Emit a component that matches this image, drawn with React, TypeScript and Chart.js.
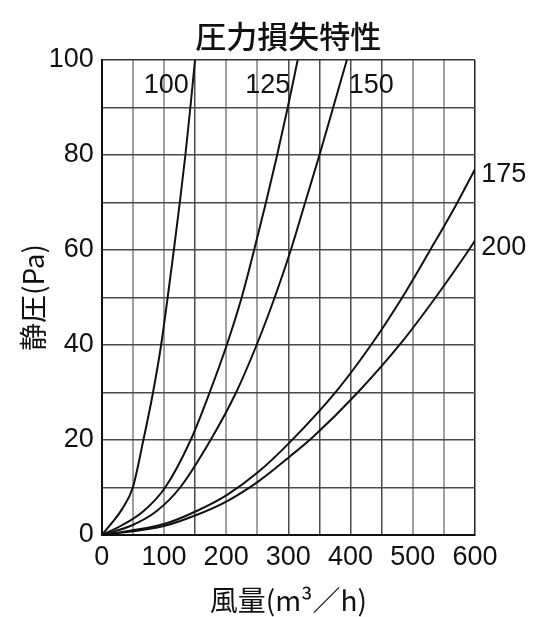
import { useEffect, useRef } from "react";
import { Chart, registerables } from "chart.js";

Chart.register(...registerables);

const titleText = "圧力損失特性";
const xTitle = "風量(m³／h)";
const yTitle = "静圧(Pa)";

// air flow (m3/h) and static pressure (Pa)
const q100 = [0, 16, 33, 50, 67, 82.5, 95.5, 106, 116, 125.5, 134.5, 142.5, 150];
const p100 = [0, 2.5, 5.5, 10, 20, 30, 40, 50, 60, 70, 80, 90, 100];

const q125 = [0, 32, 67, 102, 143, 173.5, 201, 225, 245, 264, 282, 299, 315];
const p125 = [0, 2, 5, 10, 20, 30, 40, 50, 60, 70, 80, 90, 100];

const q150 = [0, 48, 88, 126, 175, 216, 249, 278, 304, 327, 350, 372, 394];
const p150 = [0, 2, 5, 10, 20, 30, 40, 50, 60, 70, 80, 90, 100];

const q175 = [0, 100, 150, 201, 252, 303, 378, 434, 482, 528, 570, 600];
const p175 = [0, 2.3, 4.9, 8.4, 13.3, 19.6, 30.4, 40.2, 49.8, 60, 69.6, 77];

const q200 = [0, 100, 150, 201, 252, 303, 340, 410, 481, 536, 589, 600];
const p200 = [0, 1.9, 4.1, 7.1, 11.3, 16.6, 20.7, 29.8, 40.4, 49.9, 59.8, 62];

const curveNames = ["100", "125", "150", "175", "200"];
const curveQ = [q100, q125, q150, q175, q200];
const curveP = [p100, p125, p150, p175, p200];

// where each curve's name sits, in data units
const labelQ = [140, 303, 397, 610, 610];
const labelP = [94.7, 94.7, 94.7, 75.9, 60.5];
const labelAlign: CanvasTextAlign[] = ["right", "right", "left", "left", "left"];

// faint (worn) vertical grid lines of the printed chart
const faintX = [50, 100, 200, 250, 500, 550];

const tickFont = { family: "'Liberation Sans', Arial, sans-serif", size: 27 };
const cjkFont = "'Noto Sans CJK JP', 'Noto Sans', sans-serif";

const annotate = {
  id: "annotate",
  afterDraw(chart: any) {
    const { ctx, chartArea, scales } = chart;
    ctx.save();
    ctx.fillStyle = "#111";
    ctx.textBaseline = "middle";
    ctx.textAlign = "center";
    ctx.font = `500 31px ${cjkFont}`;
    ctx.fillText(titleText, (chartArea.left + chartArea.right) / 2, 36);
    ctx.font = `27px ${tickFont.family}`;
    curveNames.forEach((name, i) => {
      ctx.textAlign = labelAlign[i];
      ctx.fillText(
        name,
        scales.x.getPixelForValue(labelQ[i]),
        scales.y.getPixelForValue(labelP[i])
      );
    });
    ctx.restore();
  },
};

function xGridColor(ctx: any) {
  const v = ctx.tick?.value;
  if (v === 600) return "#222";
  return faintX.includes(v) ? "#a0a0a0" : "#4a4a4a";
}

function yGridColor(ctx: any) {
  return ctx.tick?.value === 100 ? "#333" : "#4a4a4a";
}

function PressureLossChart() {
  const canvasRef = useRef<HTMLCanvasElement>(null);

  useEffect(() => {
    const canvas = canvasRef.current;
    if (!canvas) return;
    const chart = new Chart(canvas, {
      type: "line",
      data: {
        datasets: curveNames.map((name, i) => ({
          label: name,
          data: curveQ[i].map((q, j) => ({ x: q, y: curveP[i][j] })),
          borderColor: "#111",
          borderWidth: 2,
          pointRadius: 0,
          cubicInterpolationMode: "monotone" as const,
          fill: false,
        })),
      },
      options: {
        responsive: false,
        animation: false,
        layout: { padding: { left: 0, top: 60, right: 63, bottom: 0 } },
        plugins: {
          legend: { display: false },
          tooltip: { enabled: false },
        },
        scales: {
          x: {
            type: "linear",
            min: 0,
            max: 600,
            afterFit(scale: any) {
              scale.height = 82;
              scale.paddingLeft = 0;
              scale.paddingRight = 0;
            },
            ticks: {
              stepSize: 50,
              autoSkip: false,
              maxRotation: 0,
              padding: 6,
              color: "#111",
              font: tickFont,
              callback: (v: any) => (Number(v) % 100 === 0 ? String(v) : ""),
            },
            grid: {
              color: xGridColor,
              lineWidth: (ctx: any) => (faintX.includes(ctx.tick?.value) ? 2 : 1.5),
              drawTicks: false,
            },
            border: { color: "#111", width: 2 },
            title: {
              display: true,
              text: xTitle,
              color: "#111",
              font: { family: cjkFont, size: 28 },
              padding: { top: 0, bottom: 0 },
            },
          },
          y: {
            min: 0,
            max: 100,
            afterFit(scale: any) {
              scale.width = 101.7;
              scale.paddingTop = 0;
              scale.paddingBottom = 0;
            },
            ticks: {
              stepSize: 10,
              autoSkip: false,
              padding: 8,
              color: "#111",
              font: tickFont,
              callback: (v: any) => (Number(v) % 20 === 0 ? String(v) : ""),
            },
            grid: { color: yGridColor, lineWidth: 1.5, drawTicks: false },
            border: { color: "#111", width: 2 },
            title: {
              display: true,
              text: yTitle,
              color: "#111",
              font: { family: cjkFont, size: 28 },
              padding: { top: 17, bottom: 0 },
            },
          },
        },
      },
      plugins: [annotate],
    });
    return () => chart.destroy();
  }, []);

  return (
    <canvas
      ref={canvasRef}
      width={538}
      height={617}
      style={{ position: "fixed", left: 0, top: 0, background: "#fff" }}
    />
  );
}

export default function App() {
  return <PressureLossChart />;
}
